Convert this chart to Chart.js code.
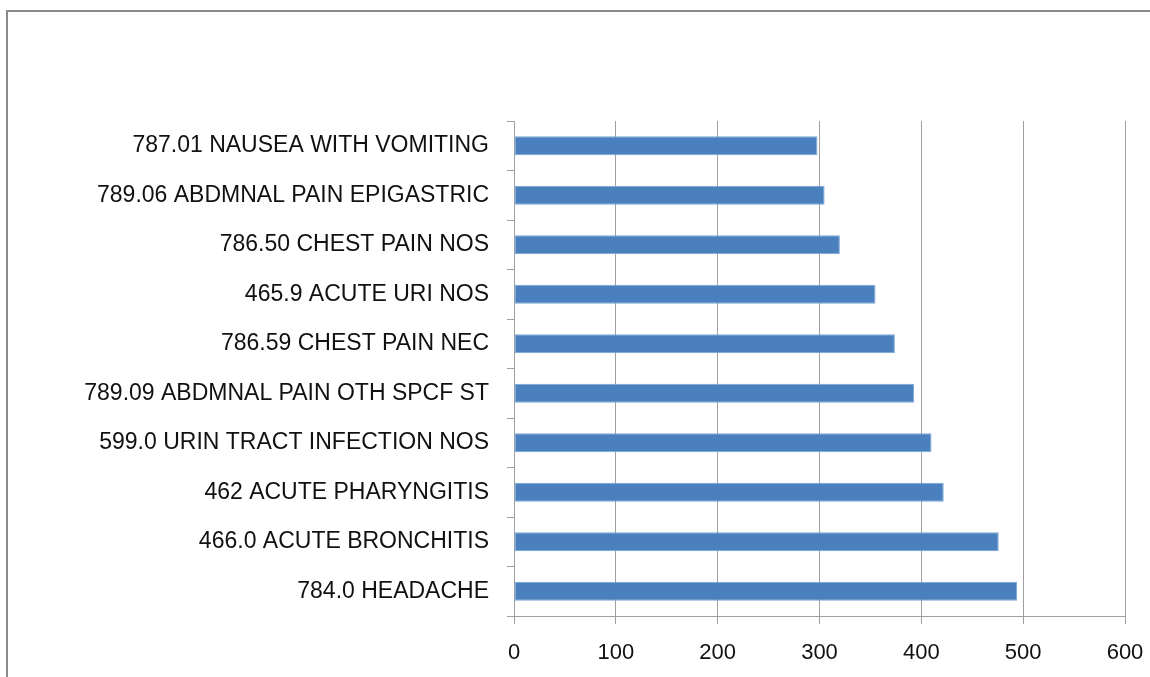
<!DOCTYPE html>
<html>
<head>
<meta charset="utf-8">
<script src="https://cdn.jsdelivr.net/npm/chart.js@4/dist/chart.umd.min.js"></script>
<style>
  html, body { margin: 0; padding: 0; background: #fff; overflow: hidden; }
  #wrap { position: relative; width: 1150px; height: 677px; }
  #frame { position: absolute; left: 6px; top: 10px; width: 1300px; height: 800px; border: 2px solid #8a8a8a; box-sizing: border-box; }
  canvas { position: absolute; left: 0; top: 0; }
</style>
</head>
<body>
<div id="wrap">
  <div id="frame"></div>
  <canvas id="c" width="1150" height="677"></canvas>
</div>
<script>
const categories = [
  "787.01 NAUSEA WITH VOMITING",
  "789.06 ABDMNAL PAIN EPIGASTRIC",
  "786.50 CHEST PAIN NOS",
  "465.9 ACUTE URI NOS",
  "786.59 CHEST PAIN NEC",
  "789.09 ABDMNAL PAIN OTH SPCF ST",
  "599.0 URIN TRACT INFECTION NOS",
  "462 ACUTE PHARYNGITIS",
  "466.0 ACUTE BRONCHITIS",
  "784.0 HEADACHE"
];
const counts = [298, 305, 320, 355, 374, 393, 410, 422, 476, 494];
const xTicks = [0, 100, 200, 300, 400, 500, 600];

new Chart(document.getElementById('c'), {
  type: 'bar',
  data: {
    labels: categories,
    datasets: [{
      data: counts,
      backgroundColor: '#4a80bd',
      borderColor: '#7aa6d6',
      borderWidth: 1,
      borderSkipped: false,
      barPercentage: 0.385,
      categoryPercentage: 1.0
    }]
  },
  options: {
    indexAxis: 'y',
    responsive: false,
    animation: false,
    layout: { padding: { left: 0, top: 121, right: 25, bottom: 0 } },
    plugins: { legend: { display: false }, tooltip: { enabled: false } },
    scales: {
      x: {
        min: 0, max: 600,
        afterBuildTicks: (s) => { s.ticks = xTicks.map(v => ({ value: v })); },
        afterFit: (s) => { s.height = 61; s.paddingLeft = 0; s.paddingRight = 0; },
        grid: { color: '#a0a0a0', lineWidth: 1, tickLength: 8, drawOnChartArea: true },
        border: { color: '#a0a0a0', width: 1 },
        ticks: { color: '#111', font: { family: 'Liberation Sans', size: 22 }, padding: 16 }
      },
      y: {
        afterFit: (s) => { s.width = 514; s.paddingTop = 0; s.paddingBottom = 0; },
        grid: { drawOnChartArea: false, color: '#a0a0a0', tickLength: 7 },
        border: { color: '#a0a0a0', width: 1 },
        ticks: { color: '#111', font: { family: 'Liberation Sans', size: 23 }, padding: 18 }
      }
    }
  }
});
</script>
</body>
</html>
